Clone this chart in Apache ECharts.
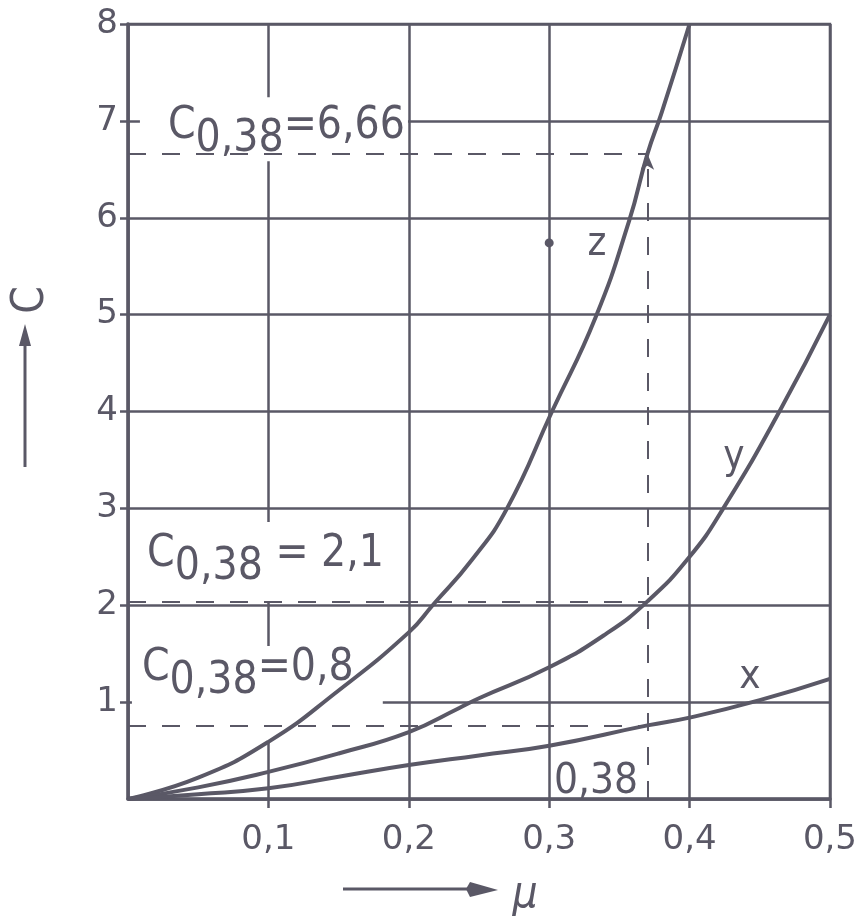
<!DOCTYPE html>
<html>
<head>
<meta charset="utf-8">
<title>c(mu)</title>
<script src="https://cdn.jsdelivr.net/npm/echarts@6/dist/echarts.min.js"></script>
<style>
html, body {margin: 0; padding: 0; background: #fff;}
#main {width: 860px; height: 920px;}
</style>
</head>
<body>
<div id="main"></div>
<script>
// curve z
var muZ = [0, 0.05, 0.1, 0.15, 0.2, 0.217, 0.245, 0.27, 0.302, 0.333, 0.357, 0.37, 0.38, 0.4];
var cZ  = [0, 0.22, 0.59, 1.12, 1.72, 2.0, 2.47, 3.0, 4.0, 4.97, 5.97, 6.66, 7.08, 8.0];
// curve y
var muY = [0, 0.05, 0.1, 0.15, 0.2, 0.236, 0.25, 0.3, 0.34, 0.37, 0.4, 0.424, 0.464, 0.5];
var cY  = [0, 0.12, 0.28, 0.47, 0.69, 0.94, 1.04, 1.36, 1.7, 2.04, 2.5, 3.0, 4.0, 5.0];
// curve x
var muX = [0, 0.05, 0.1, 0.15, 0.2, 0.25, 0.3, 0.37, 0.4, 0.45, 0.5];
var cX  = [0, 0.05, 0.11, 0.23, 0.35, 0.45, 0.55, 0.76, 0.84, 1.02, 1.24];

// reading at mu = 0,38
var readMu = 0.37;
var readValues = [6.66, 2.04, 0.76];
var readLabels = ['6,66', '2,1', '0,8'];

var muLabels = ['', '0,1', '0,2', '0,3', '0,4', '0,5'];
var cLabels = ['', '1', '2', '3', '4', '5', '6', '7', '8'];

var ink = '#5a5866';
var font = "'DejaVu Sans Condensed', 'DejaVu Sans', sans-serif";

function pairs(mu, c) {
	var out = [];
	for (var i = 0; i < mu.length; i++) {
		out.push([mu[i], c[i]]);
	}
	return out;
}

function curve(name, mu, c) {
	return {
		name: name,
		type: 'line',
		z: 3,
		smooth: 0.5,
		symbol: 'none',
		silent: true,
		lineStyle: {color: ink, width: 4},
		data: pairs(mu, c)
	};
}

var subRich = {
	c: {fontSize: 44, fontFamily: font, color: ink, padding: [0, 0, 13, 0], verticalAlign: 'bottom'},
	s: {fontSize: 44, fontFamily: font, color: ink, verticalAlign: 'bottom'}
};

function noteLabel(text, padding) {
	return {
		show: true,
		position: 'right',
		distance: 0,
		formatter: text,
		backgroundColor: '#fff',
		padding: padding,
		rich: subRich
	};
}

var readLines = [];
for (var i = 0; i < readValues.length; i++) {
	readLines.push([{coord: [0, readValues[i]], symbol: 'none'}, {coord: [readMu, readValues[i]], symbol: 'none'}]);
}
readLines.push([{coord: [readMu, 0], symbol: 'none'}, {coord: [readMu, readValues[0]], symbol: 'arrow', symbolSize: [10, 16]}]);

var seriesX = curve('x', muX, cX);
seriesX.markLine = {
	silent: true,
	animation: false,
	label: {show: false},
	lineStyle: {color: ink, width: 2, type: [18, 16]},
	data: readLines
};

var option = {
	animation: false,
	backgroundColor: '#fff',
	grid: {left: 128, right: 30, top: 24, bottom: 121, show: true, borderColor: ink, borderWidth: 2.5},
	xAxis: {
		type: 'value',
		min: 0, max: 0.5, interval: 0.1,
		axisLine: {lineStyle: {color: ink, width: 3.5}},
		axisTick: {length: 9, lineStyle: {color: ink, width: 2.5}},
		splitLine: {lineStyle: {color: ink, width: 2.5}},
		axisLabel: {
			showMinLabel: false,
			margin: 24,
			color: ink,
			fontSize: 34,
			fontFamily: 'DejaVu Sans',
			formatter: function (v) { return muLabels[Math.round(v / 0.1)]; }
		}
	},
	yAxis: {
		type: 'value',
		min: 0, max: 8, interval: 1,
		axisLine: {lineStyle: {color: ink, width: 3.5}},
		axisTick: {length: 8, lineStyle: {color: ink, width: 2.5}},
		splitLine: {lineStyle: {color: ink, width: 2.5}},
		axisLabel: {
			showMinLabel: false,
			margin: 10,
			color: ink,
			fontSize: 34,
			fontFamily: 'DejaVu Sans',
			formatter: function (v) { return cLabels[Math.round(v)]; }
		}
	},
	graphic: [
		// axis name C with arrow
		{type: 'line', shape: {x1: 25, y1: 467, x2: 25, y2: 342}, style: {stroke: ink, lineWidth: 3}},
		{type: 'polygon', shape: {points: [[25, 324], [19, 346], [31, 346]]}, style: {fill: ink}},
		{type: 'text', x: 32, y: 300, rotation: Math.PI / 2,
			style: {text: 'C', font: '44px ' + font, fill: ink, align: 'center', verticalAlign: 'middle'}},
		// axis name mu with arrow
		{type: 'line', shape: {x1: 343, y1: 889, x2: 475, y2: 889}, style: {stroke: ink, lineWidth: 3}},
		{type: 'polygon', shape: {points: [[498, 890], [470, 882], [466, 889], [470, 897]]}, style: {fill: ink}},
		{type: 'text', x: 525, y: 896,
			style: {text: 'μ', font: 'italic 44px ' + font, fill: ink, align: 'center', verticalAlign: 'middle'}}
	],
	series: [
		curve('z', muZ, cZ),
		curve('y', muY, cY),
		seriesX,
		{
			name: 'notes',
			type: 'scatter',
			z: 1,
			silent: true,
			symbolSize: 0,
			itemStyle: {opacity: 1},
			data: [
				{value: [0.0085, 6.914], label: noteLabel('{c|C}{s|0,38}{c|=' + readLabels[0] + '}', [7, 3, 0, 28])},
				{value: [0.0036, 2.446], label: noteLabel('{c|C}{s|0,38}{c| = ' + readLabels[1] + '}', [11, 4, 12, 14])},
				{value: [0.0028, 1.078], label: noteLabel('{c|C}{s|0,38}{c|=' + readLabels[2] + '}', [0, 29, 40, 10])}
			]
		},
		{
			name: 'names',
			type: 'scatter',
			z: 4,
			silent: true,
			symbolSize: 0,
			itemStyle: {opacity: 1},
			label: {show: true, position: 'inside', formatter: '{b}', color: ink, fontFamily: font},
			data: [
				{name: 'z', value: [0.334, 5.72], label: {fontSize: 40}},
				{name: 'y', value: [0.4316, 3.52], label: {fontSize: 40}},
				{name: 'x', value: [0.443, 1.25], label: {fontSize: 40}},
				{name: '0,38', value: [0.3333, 0.175], label: {fontSize: 42}}
			]
		},
		{
			name: 'dot',
			type: 'scatter',
			z: 4,
			silent: true,
			symbolSize: 9,
			itemStyle: {color: ink, opacity: 1},
			data: [[0.3, 5.74]]
		}
	]
};

var myChart = echarts.init(document.getElementById('main'));
myChart.setOption(option);
</script>
</body>
</html>
